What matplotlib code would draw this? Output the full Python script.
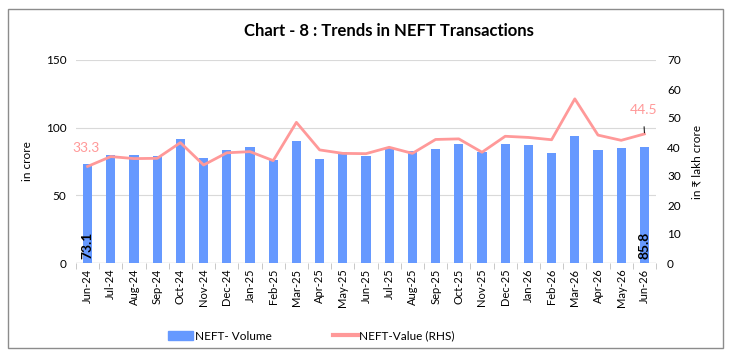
import numpy as np
import matplotlib.pyplot as plt
from matplotlib.patches import Rectangle

plt.rcParams['font.family'] = ['Lato', 'DejaVu Sans']

# ---- data ----
months = ["Jun-24", "Jul-24", "Aug-24", "Sep-24", "Oct-24", "Nov-24", "Dec-24",
          "Jan-25", "Feb-25", "Mar-25", "Apr-25", "May-25", "Jun-25", "Jul-25",
          "Aug-25", "Sep-25", "Oct-25", "Nov-25", "Dec-25", "Jan-26", "Feb-26",
          "Mar-26", "Apr-26", "May-26", "Jun-26"]
neft_volume = [73.1, 79.8, 79.8, 79.1, 91.6, 77.8, 83.3, 85.7, 76.4, 89.9, 76.9,
               81.8, 79.3, 84.8, 82.8, 84.3, 88.0, 81.8, 87.7, 87.0, 81.3, 93.9,
               83.3, 85.0, 85.8]
neft_value = [33.3, 36.7, 36.0, 36.1, 41.5, 33.8, 38.0, 38.4, 35.3, 48.5, 39.0,
              37.8, 37.7, 39.9, 37.8, 42.6, 42.8, 38.2, 43.7, 43.3, 42.5, 56.6,
              44.1, 42.3, 44.5]

bar_color = "#6699FF"
line_color = "#FF9999"

fig = plt.figure(figsize=(7.32, 3.58), dpi=100)
ax = fig.add_axes([76 / 732, 1 - 263 / 358, 580 / 732, 203 / 358])
ax2 = ax.twinx()

x = np.arange(len(months))
ax.bar(x, neft_volume, width=0.4, color=bar_color, zorder=2)
ax2.plot(x, neft_value, color=line_color, linewidth=2, zorder=3)

ax.set_xlim(-0.5, len(months) - 0.5)
ax.set_ylim(0, 150)
ax.set_yticks([0, 50, 100, 150])
ax2.set_ylim(0, 70)
ax2.set_yticks(range(0, 71, 10))

ax.grid(axis="y", color="#D9D9D9", linewidth=0.8, zorder=0)
ax.set_axisbelow(True)
for a in (ax, ax2):
    for s in ["top", "left", "right", "bottom"]:
        a.spines[s].set_visible(False)
    a.tick_params(axis="y", length=0, labelsize=8.5, colors="black")
ax.axhline(0, color="#BFBFBF", linewidth=0.9, zorder=1)

ax.set_xticks(x)
ax.set_xticklabels(months, rotation=90, fontsize=8)
ax.tick_params(axis="x", length=0, pad=4)
ax.set_xticks(np.arange(-0.5, len(months), 1), minor=True)
ax.tick_params(axis="x", which="minor", length=4, color="#BFBFBF")
ax.tick_params(axis="y", pad=7)
ax2.tick_params(axis="y", pad=8)

ax.set_ylabel("in crore", fontsize=8.5, labelpad=9)
ax2.set_ylabel("in ₹ lakh crore", fontsize=8.5, labelpad=8)

# data labels
for i in (0, len(months) - 1):
    ax.text(x[i], 3, f"{neft_volume[i]}", rotation=90, ha="center", va="bottom",
            fontsize=10, fontweight="bold", color="black", zorder=4)
ax2.text(x[0] - 0.05, neft_value[0] + 6.2, f"{neft_value[0]}", ha="center",
         va="center", fontsize=10, color=line_color)
ax2.annotate(f"{neft_value[-1]}", xy=(x[-1], neft_value[-1] + 0.4),
             xytext=(x[-1] - 0.05, neft_value[-1] + 8.4), ha="center", va="center",
             fontsize=10, color=line_color,
             arrowprops=dict(arrowstyle="-", color="black", lw=0.7,
                             shrinkA=6, shrinkB=0))

fig.text(389 / 732, 1 - 31 / 358, "Chart - 8 : Trends in NEFT Transactions",
         ha="center", va="center", fontsize=12, fontweight="bold")

# legend
handles = [Rectangle((0, 0), 1, 1, color=bar_color),
           plt.Line2D([0], [0], color=line_color, linewidth=3)]
fig.legend(handles, ["NEFT- Volume", "NEFT-Value (RHS)"], loc="center left",
           bbox_to_anchor=(168 / 732, 1 - 336 / 358), ncol=2, frameon=False,
           fontsize=8.5, columnspacing=5.2, handlelength=2.1, handletextpad=0.15,
           borderpad=0, borderaxespad=0)

# outer border
fig.add_artist(Rectangle((8 / 732, 1 - 348 / 358), 715 / 732, 339 / 358,
                         transform=fig.transFigure, fill=False,
                         edgecolor="#8C8C8C", linewidth=1))

fig.savefig("out.png", dpi=100)
